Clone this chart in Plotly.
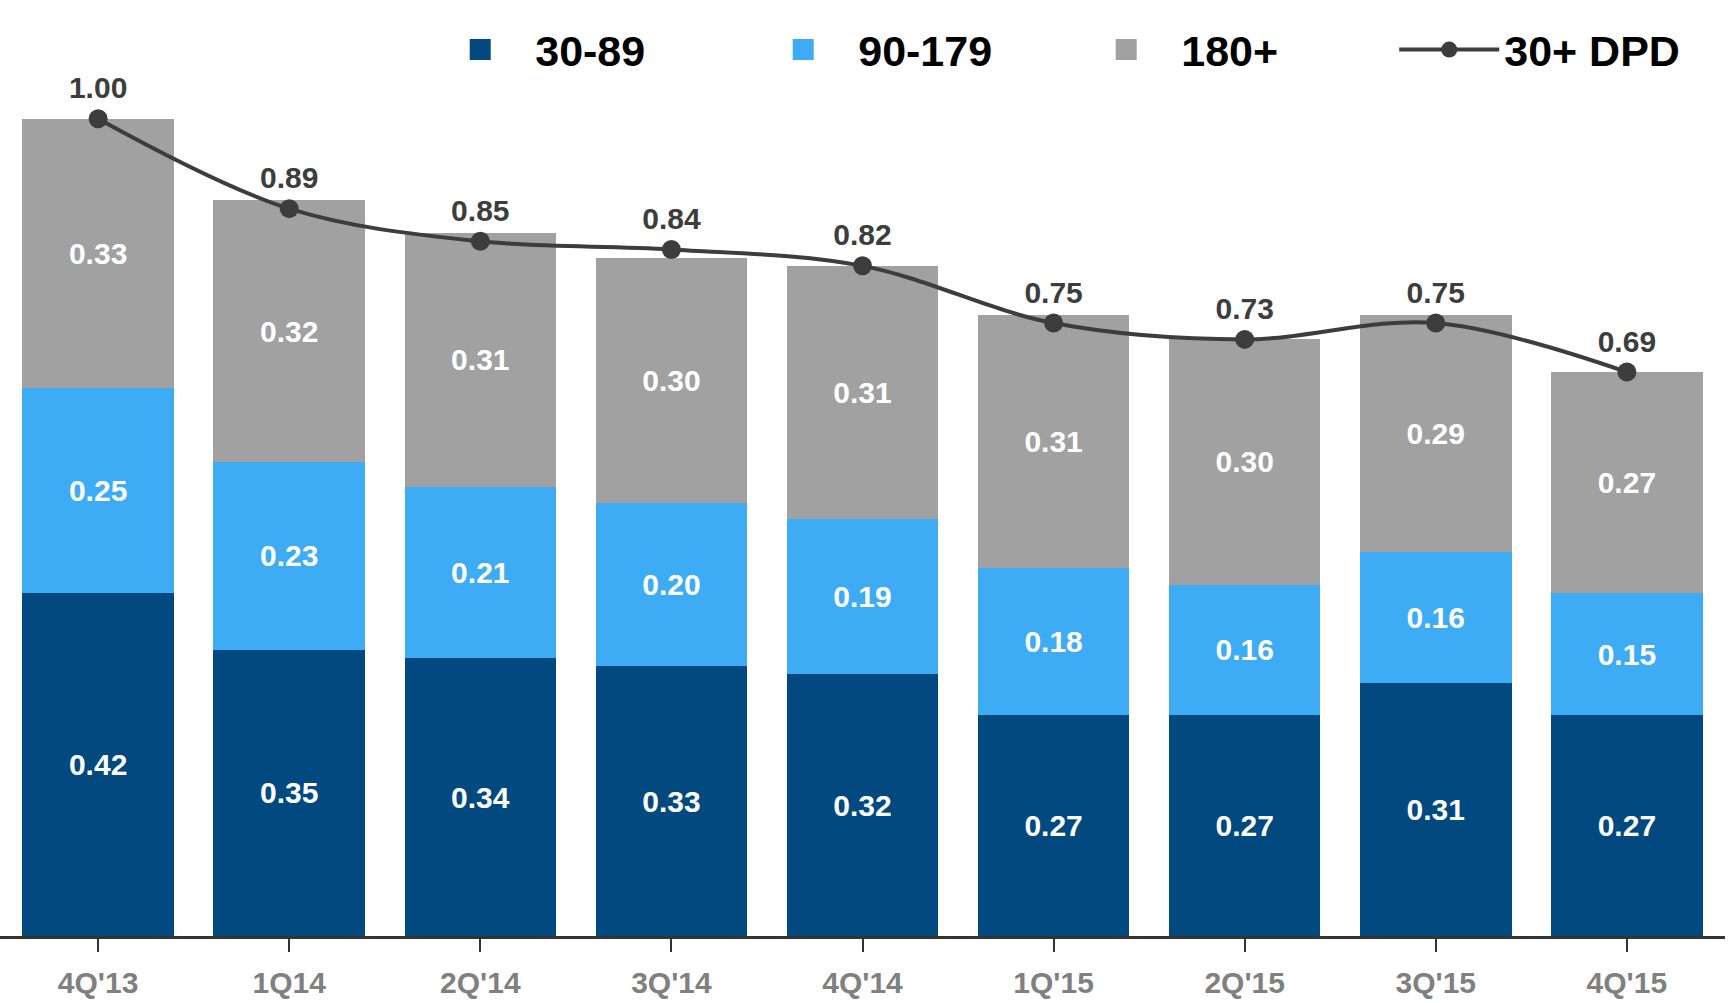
import plotly.graph_objects as go

quarters = ["4Q'13", "1Q14", "2Q'14", "3Q'14", "4Q'14", "1Q'15", "2Q'15", "3Q'15", "4Q'15"]
dpd_30_89 = [0.42, 0.35, 0.34, 0.33, 0.32, 0.27, 0.27, 0.31, 0.27]
dpd_90_179 = [0.25, 0.23, 0.21, 0.20, 0.19, 0.18, 0.16, 0.16, 0.15]
dpd_180 = [0.33, 0.32, 0.31, 0.30, 0.31, 0.31, 0.30, 0.29, 0.27]
dpd_total = [1.00, 0.89, 0.85, 0.84, 0.82, 0.75, 0.73, 0.75, 0.69]
series_names = ["30-89", "90-179", "180+"]
total_name = "30+ DPD"

C_DARK = "#01497e"
C_LIGHT = "#3eabf5"
C_GREY = "#a1a1a1"
C_LINE = "#3d3d3d"
FONT = "Liberation Sans, Arial, sans-serif"

fig = go.Figure()
for name, vals, col in zip(series_names, [dpd_30_89, dpd_90_179, dpd_180], [C_DARK, C_LIGHT, C_GREY]):
    fig.add_trace(go.Bar(
        x=quarters, y=vals, name=name, showlegend=False,
        marker=dict(color=col, line=dict(width=0)),
        text=[f"{v:.2f}" for v in vals], textposition="inside", insidetextanchor="middle",
        textfont=dict(family=FONT, size=30, color="white", weight="bold"),
        constraintext="none", hoverinfo="skip",
    ))
for name, col in zip(series_names, [C_DARK, C_LIGHT, C_GREY]):
    fig.add_trace(go.Scatter(
        x=[None], y=[None], mode="markers", name=name,
        marker=dict(symbol="square", size=16, color=col, line=dict(color=col, width=5)),
    ))
fig.add_trace(go.Scatter(
    x=quarters, y=dpd_total, mode="lines+markers+text", name=total_name,
    line=dict(color=C_LINE, width=4, shape="spline", smoothing=1.0),
    marker=dict(size=19, color=C_LINE),
    text=[f"{v:.2f}" for v in dpd_total], textposition="top center",
    textfont=dict(family=FONT, size=30, color=C_LINE, weight="bold"),
    cliponaxis=False,
))

fig.update_layout(
    width=1734, height=1003,
    barmode="stack", bargap=0.207,
    margin=dict(l=0, r=9, t=37, b=67),
    plot_bgcolor="white", paper_bgcolor="white",
    font=dict(family=FONT),
    legend=dict(
        orientation="h", x=0.2465, xanchor="left", y=0.986, yanchor="middle",
        font=dict(family=FONT, size=43, color="black", weight="bold"),
        entrywidth=208, entrywidthmode="pixels", itemwidth=100,
        traceorder="normal", bgcolor="rgba(0,0,0,0)",
    ),
    xaxis=dict(
        showline=True, linecolor="#333333", linewidth=3,
        ticks="outside", ticklen=13, tickwidth=1.5, tickcolor="#333333",
        ticklabelstandoff=5,
        tickfont=dict(family=FONT, size=30, color="#808080", weight="bold"),
        showgrid=False, zeroline=False, automargin=False,
    ),
    yaxis=dict(range=[0, 1.1], visible=False, showgrid=False, zeroline=False),
)

fig.write_html(
    "out.html",
    config={"displayModeBar": False},
    post_script="document.body.style.margin='0';document.body.style.overflow='hidden';",
)
